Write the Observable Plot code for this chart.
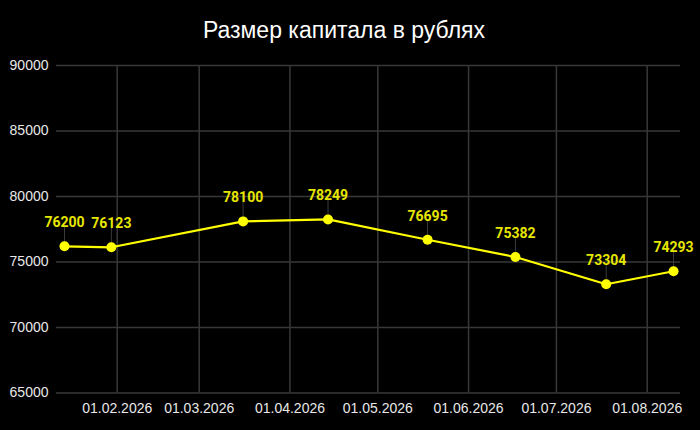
<!DOCTYPE html>
<html>
<head>
<meta charset="utf-8">
<script src="https://cdn.jsdelivr.net/npm/d3@7"></script>
<script src="https://cdn.jsdelivr.net/npm/@observablehq/plot@0.6"></script>
<style>
  html, body { margin: 0; padding: 0; background: #000; }
  #title {
    box-sizing: border-box;
    width: 688px; height: 52px;
    padding-top: 17px;
    line-height: 27px;
    text-align: center;
    font-family: "Liberation Sans", Arial, sans-serif;
    font-size: 23px;
    color: #fff;
  }
  #chart svg { display: block; }
</style>
</head>
<body>
<div id="title">Размер капитала в рублях</div>
<div id="chart"></div>
<script>
const dates = ["2026-01-14","2026-01-30","2026-03-16","2026-04-14","2026-05-18","2026-06-17","2026-07-18","2026-08-10"];
const values = [76200, 76123, 78100, 78249, 76695, 75382, 73304, 74293];
const yTicks = [65000, 70000, 75000, 80000, 85000, 90000];
const xDomain = ["2026-01-11T06:30:00Z", "2026-08-12T09:00:00Z"];

const data = dates.map((d, i) => ({date: new Date(d + "T00:00:00Z"), value: values[i]}));
const monthTicks = d3.utcMonth.range(new Date("2026-02-01T00:00:00Z"), new Date("2026-08-02T00:00:00Z"));
const fmt = d3.utcFormat("%d.%m.%Y");

const plot = Plot.plot({
  width: 700,
  height: 378,
  marginTop: 13,
  marginBottom: 37.5,
  marginLeft: 56,
  marginRight: 20,
  style: {background: "#000", color: "#e8e8e8", fontFamily: "'Liberation Sans', Arial, sans-serif", fontSize: "14px"},
  x: {type: "utc", domain: xDomain.map(s => new Date(s))},
  y: {domain: [yTicks[0], yTicks[yTicks.length - 1]]},
  marks: [
    Plot.gridY(yTicks, {stroke: "#383838", strokeOpacity: 1, strokeWidth: 1.5}),
    Plot.gridX(monthTicks, {stroke: "#383838", strokeOpacity: 1, strokeWidth: 1.5}),
    Plot.axisY(yTicks, {tickSize: 0, tickPadding: 8, label: null, tickFormat: d => String(d), fill: "#e8e8e8", fontSize: 14}),
    Plot.axisX(monthTicks, {tickSize: 0, tickPadding: 10, label: null, tickFormat: fmt, fill: "#e8e8e8", fontSize: 14}),
    Plot.ruleX(data, {x: "date", y1: "value", y2: "value", insetTop: -19, insetBottom: 0, stroke: "#3a3a3a", strokeWidth: 1}),
    Plot.line(data, {x: "date", y: "value", stroke: "#ffff00", strokeWidth: 2.2}),
    Plot.dot(data, {x: "date", y: "value", r: 5, fill: "#ffff00", stroke: "none"}),
    Plot.text(data, {x: "date", y: "value", text: d => String(d.value), dy: -19, lineAnchor: "bottom",
      fill: "#e6e600", fontSize: 14, fontWeight: "bold", fontFamily: "Roboto, sans-serif"})
  ]
});
document.getElementById("chart").appendChild(plot);
</script>
</body>
</html>
